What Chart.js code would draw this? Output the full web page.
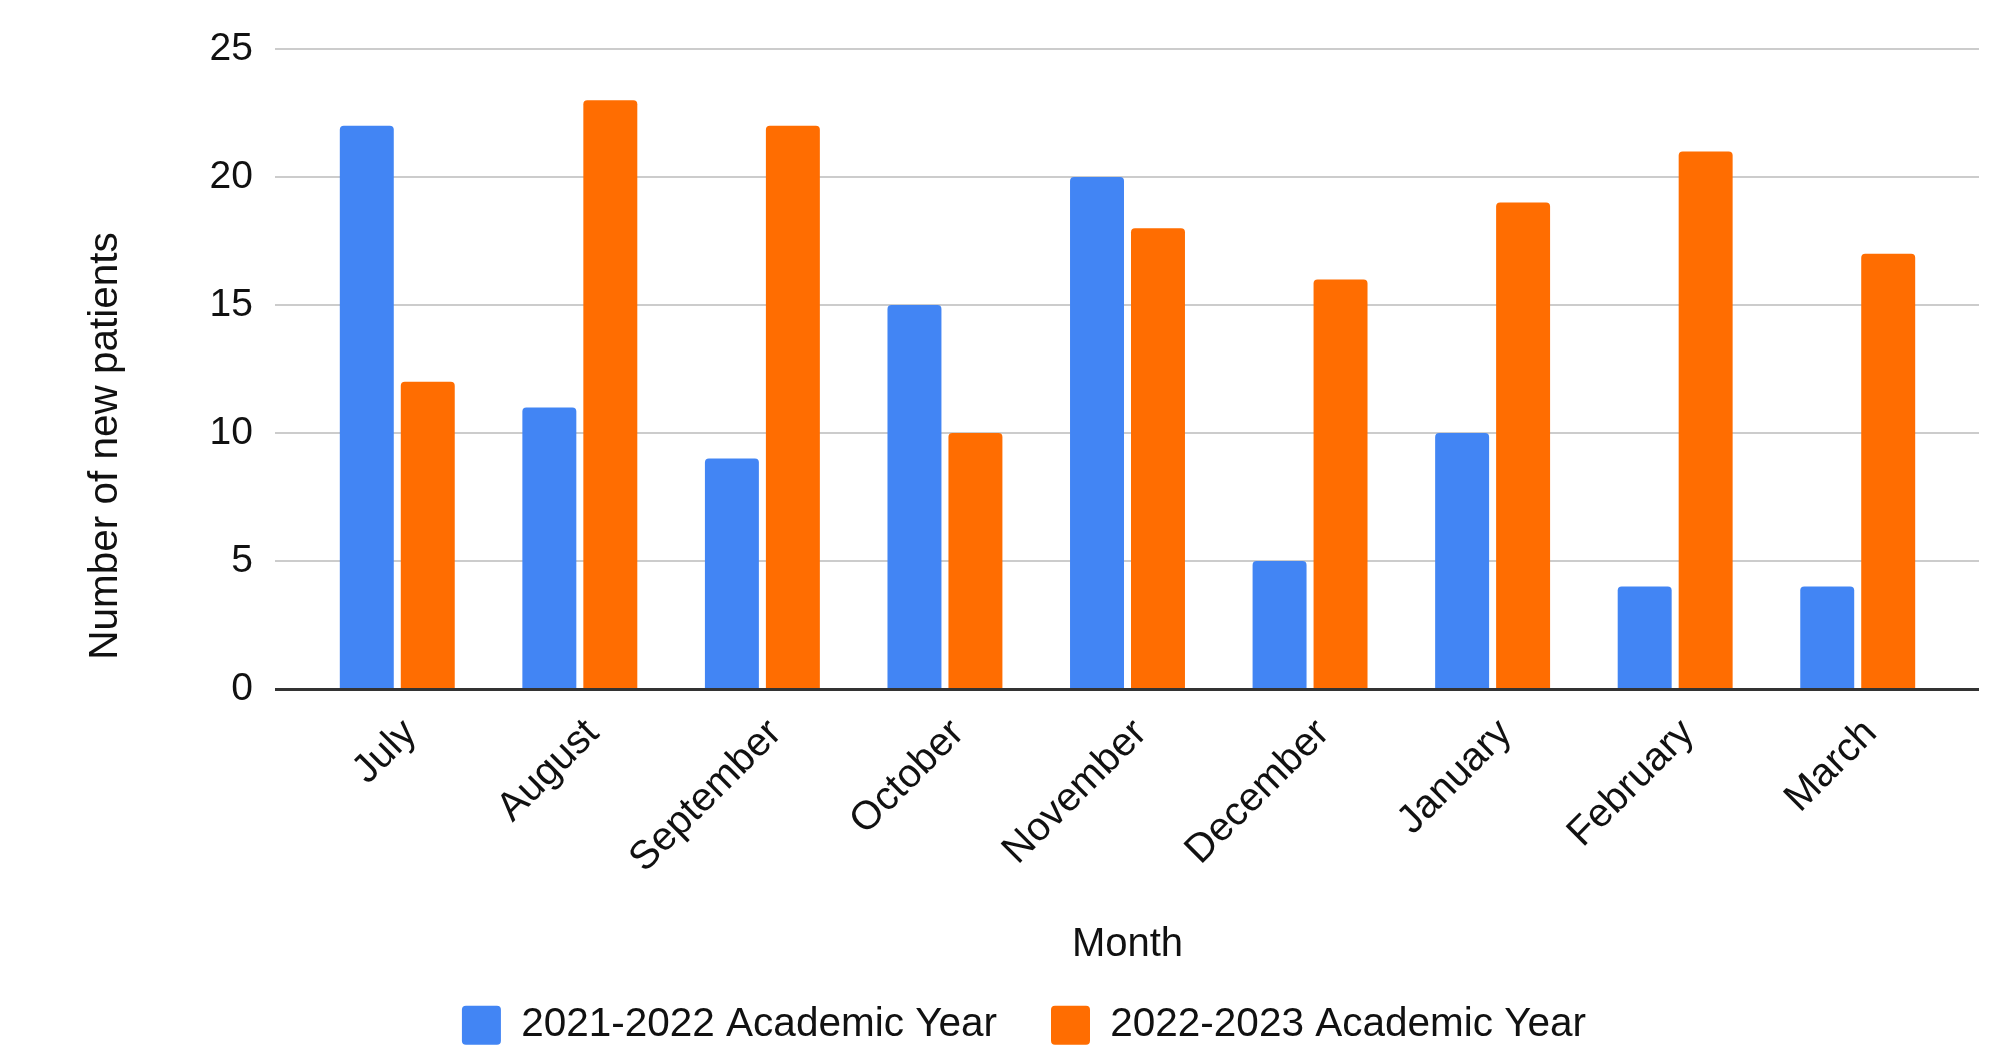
<!DOCTYPE html>
<html>
<head>
<meta charset="utf-8">
<script src="https://cdn.jsdelivr.net/npm/chart.js@4.4.1/dist/chart.umd.min.js"></script>
<style>
  html, body { margin: 0; padding: 0; background: #fff; }
  #wrap { width: 2011px; height: 1046px; }
</style>
</head>
<body>
<div id="wrap"><canvas id="patientsChart"></canvas></div>
<script>
/* ---------------------------------- Data ---------------------------------- */
const months = ['July', 'August', 'September', 'October', 'November', 'December', 'January', 'February', 'March'];
const year2122 = [22, 11, 9, 15, 20, 5, 10, 4, 4];
const year2223 = [12, 23, 22, 10, 18, 16, 19, 21, 17];
const seriesNames = ['2021-2022 Academic Year', '2022-2023 Academic Year'];
const yTicks = [0, 5, 10, 15, 20, 25];
const xTitle = 'Month';
const yTitle = 'Number of new patients';

const FONT = "'Liberation Sans', Arial, Helvetica, sans-serif";
const TEXT = '#111111';

/* ------------------------------- Plugins ---------------------------------- */
// gridlines run a bit past the outer bars, like in sheets
const sheetGrid = {
    id: 'sheetGrid',
    beforeDatasetsDraw(chart) {
        const { ctx, chartArea, scales } = chart;
        const y = scales.y;
        const x0 = chartArea.left - 31, x1 = chartArea.right + 30;
        ctx.save();
        ctx.strokeStyle = '#cccccc';
        ctx.lineWidth = 2;
        yTicks.forEach(v => {
            if (v === 0) return;
            const py = Math.round(y.getPixelForValue(v));
            ctx.beginPath();
            ctx.moveTo(x0, py);
            ctx.lineTo(x1, py);
            ctx.stroke();
        });
        ctx.restore();
    },
    afterDatasetsDraw(chart) {
        const { ctx, chartArea, scales } = chart;
        const py = scales.y.getPixelForValue(0) + 0.5;
        ctx.save();
        ctx.strokeStyle = '#333333';
        ctx.lineWidth = 3;
        ctx.beginPath();
        ctx.moveTo(chartArea.left - 31, py);
        ctx.lineTo(chartArea.right + 30, py);
        ctx.stroke();
        ctx.restore();
    }
};

// y title sits lower than the middle of the axis in the original
const yAxisTitle = {
    id: 'yAxisTitle',
    afterDraw(chart) {
        const { ctx } = chart;
        ctx.save();
        ctx.translate(106, 446);
        ctx.rotate(-Math.PI / 2);
        ctx.fillStyle = TEXT;
        ctx.font = '40.5px ' + FONT;
        ctx.textAlign = 'center';
        ctx.textBaseline = 'middle';
        ctx.fillText(yTitle, 0, 0);
        ctx.restore();
    }
};

/* ---------------------------------- Chart --------------------------------- */
new Chart(document.getElementById('patientsChart'), {
    type: 'bar',
    data: {
        labels: months,
        datasets: [
            { label: seriesNames[0], data: year2122, backgroundColor: '#4285F4' },
            { label: seriesNames[1], data: year2223, backgroundColor: '#FF6D01' }
        ]
    },
    options: {
        responsive: true,
        maintainAspectRatio: false,
        animation: false,
        categoryPercentage: 0.668,
        barPercentage: 0.885,
        borderRadius: 4,
        layout: { padding: { top: 49, right: 19, left: 56, bottom: 0 } },
        plugins: {
            tooltip: { enabled: false },
            legend: {
                position: 'bottom',
                maxHeight: 95,
                labels: {
                    color: TEXT,
                    font: { family: FONT, size: 40.5 },
                    boxWidth: 39,
                    boxHeight: 39,
                    useBorderRadius: true,
                    borderRadius: 4,
                    padding: 54
                }
            }
        },
        scales: {
            x: {
                grid: { display: false, drawTicks: false },
                border: { display: false },
                ticks: {
                    color: TEXT,
                    font: { family: FONT, size: 40 },
                    minRotation: 45,
                    maxRotation: 45,
                    padding: 21,
                    labelOffset: 13
                },
                title: {
                    display: true,
                    text: xTitle,
                    color: TEXT,
                    font: { family: FONT, size: 40 },
                    padding: { top: 0, bottom: -18 }
                },
                afterFit: s => { s.height = 262; }
            },
            y: {
                min: 0,
                max: 25,
                grid: { display: false, drawTicks: false },
                border: { display: false },
                ticks: {
                    stepSize: 5,
                    color: TEXT,
                    font: { family: FONT, size: 39 },
                    padding: 53
                },
                afterFit: s => { s.width = 250; s.paddingTop = 0; s.paddingBottom = 0; }
            },
            // empty right-hand axis, only keeps space so the legend centres like the original
            yRight: {
                position: 'right',
                grid: { display: false, drawTicks: false },
                border: { display: false },
                ticks: { display: false },
                afterFit: s => { s.width = 43; s.paddingTop = 0; s.paddingBottom = 0; }
            }
        }
    },
    plugins: [sheetGrid, yAxisTitle]
});
</script>
</body>
</html>
